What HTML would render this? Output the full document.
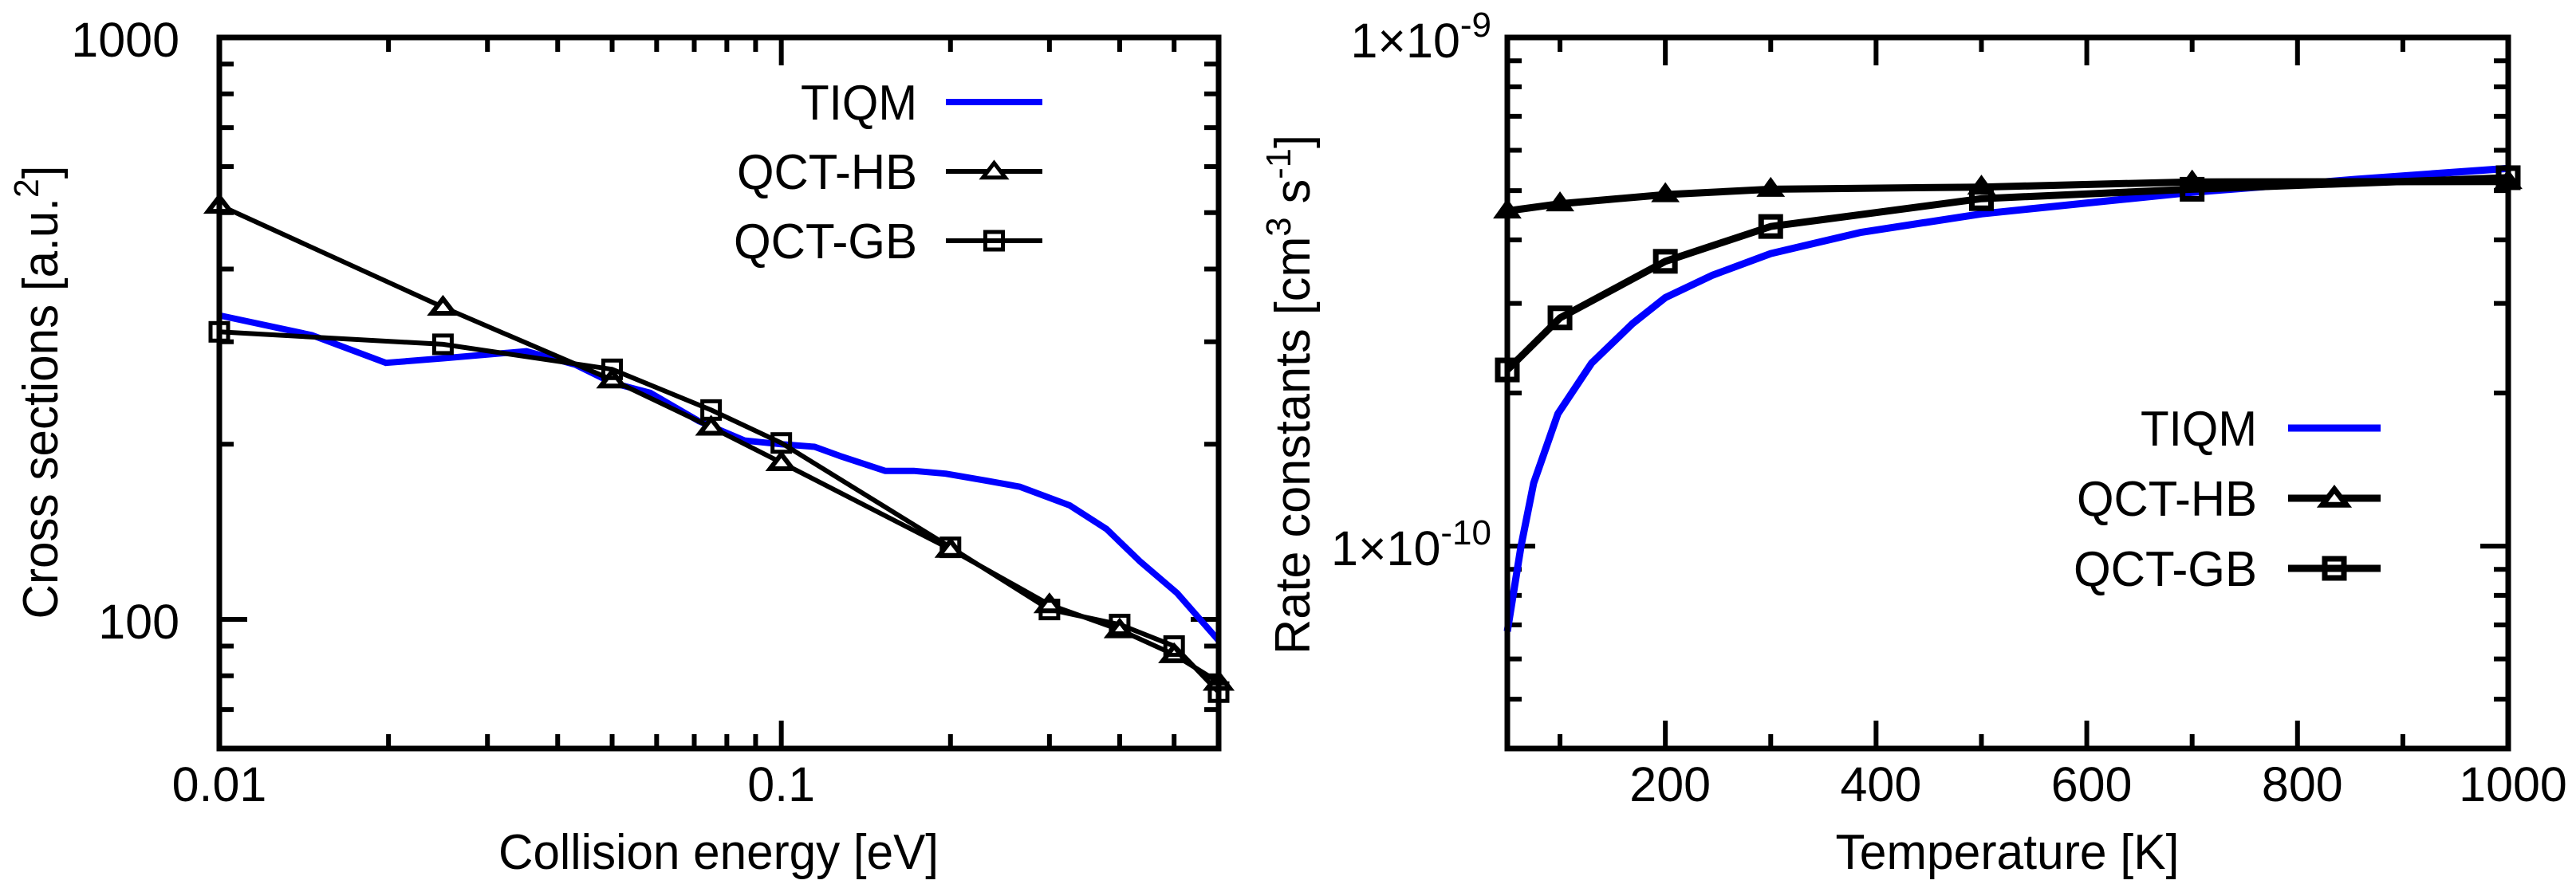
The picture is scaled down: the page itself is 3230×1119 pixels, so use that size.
<!DOCTYPE html>
<html><head><meta charset="utf-8"><style>
html,body{margin:0;padding:0;background:#fff}
svg{display:block}
text{font-family:"Liberation Sans",Arial,sans-serif;fill:#000}
</style></head><body>
<svg id="fig" width="3230" height="1119" viewBox="0 0 3230 1119" xmlns="http://www.w3.org/2000/svg">
<rect width="3230" height="1119" fill="#fff"/>
<g id="left"></g>
<g id="right"></g>
</svg>
<script>
// ---- Left chart data ----
const leftX = [0.01,0.025,0.05,0.075,0.1,0.2,0.3,0.4,0.5,0.6];
const leftHB = [515,344,258,214,186,132,106,96,87,78];
const leftGB = [312,297,269,229,201,133,104,98,90,75];
const leftTiqmX = [0.01,0.0146,0.0198,0.025,0.0352,0.043,0.05,0.0585,0.0714,0.086,0.1,0.1146,0.127,0.153,0.172,0.196,0.233,0.266,0.326,0.379,0.434,0.506,0.6];
const leftTiqmY = [333,308,276,281,289,274,255,245,219,203,200,198,191,180,180,178,173,169,157,143,126,111,92];
const leftYTicks = [100,1000];
const leftYTickLabels = ["100","1000"];
const leftXTicks = [0.01,0.1];
const leftXTickLabels = ["0.01","0.1"];
// ---- Right chart data ----
const rightT = [50,100,200,300,500,700,1000];
const rightHB = [4.56e-10,4.71e-10,4.91e-10,5.03e-10,5.08e-10,5.2e-10,5.21e-10];
const rightGB = [2.22e-10,2.81e-10,3.63e-10,4.25e-10,4.82e-10,5.03e-10,5.3e-10];
const rightTiqmT = [50,63,75,98,130,169,200,245,300,386,500,619,700,855,1000];
const rightTiqmK = [6.8e-11,1e-10,1.33e-10,1.82e-10,2.29e-10,2.74e-10,3.08e-10,3.41e-10,3.76e-10,4.14e-10,4.5e-10,4.77e-10,4.96e-10,5.26e-10,5.53e-10];
const rightXTicks = [200,400,600,800,1000];
const rightXTickLabels = ["200","400","600","800","1000"];
const rightYTickExps = ["-9","-10"];

const NS="http://www.w3.org/2000/svg";
function mk(parent,tag,attrs,txt){const e=document.createElementNS(NS,tag);for(const k in attrs)e.setAttribute(k,attrs[k]);if(txt!==undefined)e.textContent=txt;parent.appendChild(e);return e;}

// ===== LEFT =====
const L=document.getElementById('left');
const lx0=275,lx1=1528,ly0=47,ly1=939;
const lxMin=0.01,lxMax=0.6,lyMin=60,lyMax=1000;
const lxs=v=>lx0+(Math.log10(v)-Math.log10(lxMin))/(Math.log10(lxMax)-Math.log10(lxMin))*(lx1-lx0);
const lys=v=>ly1-(Math.log10(v)-Math.log10(lyMin))/(Math.log10(lyMax)-Math.log10(lyMin))*(ly1-ly0);
// ticks
[0.02,0.03,0.04,0.05,0.06,0.07,0.08,0.09,0.2,0.3,0.4,0.5].forEach(v=>{
  const t=mk(L,'line',{x1:lxs(v),x2:lxs(v),y1:ly1,y2:ly1-18,stroke:'#000','stroke-width':6});
  
  
  const t2=mk(L,'line',{x1:lxs(v),x2:lxs(v),y1:ly0,y2:ly0+18,stroke:'#000','stroke-width':6});
  
  
});
leftXTicks.forEach((v,i)=>{
  const t=mk(L,'line',{x1:lxs(v),x2:lxs(v),y1:ly1,y2:ly1-35,stroke:'#000','stroke-width':6});
  
  
  const t2=mk(L,'line',{x1:lxs(v),x2:lxs(v),y1:ly0,y2:ly0+35,stroke:'#000','stroke-width':6});
  
  
  const lb=mk(L,'text',{x:lxs(v),y:1005,'font-size':61,'text-anchor':'middle'},leftXTickLabels[i]);
  
  
});
[70,80,90,200,300,400,500,600,700,800,900].forEach(v=>{
  const t=mk(L,'line',{x1:lx0,x2:lx0+18,y1:lys(v),y2:lys(v),stroke:'#000','stroke-width':6});
  
  
  const t2=mk(L,'line',{x1:lx1,x2:lx1-18,y1:lys(v),y2:lys(v),stroke:'#000','stroke-width':6});
  
  
});
leftYTicks.forEach((v,i)=>{
  const t=mk(L,'line',{x1:lx0,x2:lx0+35,y1:lys(v),y2:lys(v),stroke:'#000','stroke-width':6});
  
  
  const t2=mk(L,'line',{x1:lx1,x2:lx1-35,y1:lys(v),y2:lys(v),stroke:'#000','stroke-width':6});
  
  
  const lb=mk(L,'text',{x:225,y:lys(v)+24,'font-size':61,'text-anchor':'end'},leftYTickLabels[i]);
  
  
});
// series
function ptsStr(xs,ys,fx,fy){return xs.map((x,i)=>fx(x).toFixed(1)+','+fy(ys[i]).toFixed(1)).join(' ');}
const lt=mk(L,'polyline',{points:ptsStr(leftTiqmX,leftTiqmY,lxs,lys),fill:'none',stroke:'#0000ff','stroke-width':8,'stroke-linejoin':'round'});


const lh=mk(L,'polyline',{points:ptsStr(leftX,leftHB,lxs,lys),fill:'none',stroke:'#000','stroke-width':6});


const lg=mk(L,'polyline',{points:ptsStr(leftX,leftGB,lxs,lys),fill:'none',stroke:'#000','stroke-width':6});


function tri(g,cx,cy,s,sw){return mk(g,'polygon',{points:`${cx-s},${cy+s*0.55} ${cx+s},${cy+s*0.55} ${cx},${cy-s*0.75}`,fill:'#fff',stroke:'#000','stroke-width':sw});}
function sq(g,cx,cy,s,sw){return mk(g,'rect',{x:cx-s,y:cy-s,width:2*s,height:2*s,fill:'none',stroke:'#000','stroke-width':sw});}
leftX.forEach((x,i)=>{
  const m=tri(L,lxs(x),lys(leftHB[i]),14,6);
  
  
  const s=sq(L,lxs(x),lys(leftGB[i]),11,5);
  
  
});
// frame
const lf=mk(L,'rect',{x:lx0,y:ly0,width:lx1-lx0,height:ly1-ly0,fill:'none',stroke:'#000','stroke-width':7});


// legend
function legend(g,tx,lxA,lxB,ys,sw,blueW,ts,ss,tsw){
  const names=['TIQM','QCT-HB','QCT-GB'];const widths=[146,226,230];
  names.forEach((n,i)=>{
    const t=mk(g,'text',{x:tx,y:ys[i]+22,'font-size':62,'text-anchor':'end',textLength:widths[i],lengthAdjust:'spacingAndGlyphs'},n);
    
    
    const l=mk(g,'line',{x1:lxA,x2:lxB,y1:ys[i],y2:ys[i],stroke:i==0?'#0000ff':'#000','stroke-width':i==0?blueW:sw});
    
    
  });
  const c=(lxA+lxB)/2;
  const m=tri(g,c,ys[1],ts,tsw);
  const s=sq(g,c,ys[2],ss,tsw);
}
legend(L,1150,1186,1307,[128,215,302],6,8,14,11,5);
// titles
const lxt=mk(L,'text',{x:901,y:1090,'font-size':62,'text-anchor':'middle',textLength:552,lengthAdjust:'spacingAndGlyphs'},'Collision energy [eV]');


const lyt=mk(L,'text',{x:0,y:0,'font-size':62,'text-anchor':'middle',transform:'translate(72,492) rotate(-90)',textLength:569,lengthAdjust:'spacingAndGlyphs'});


lyt.innerHTML='Cross sections [a.u.<tspan dy="-24" font-size="44">2</tspan><tspan dy="24">]</tspan>';

// ===== RIGHT =====
const R=document.getElementById('right');
const rx0=1890,rx1=3145,ry0=47,ry1=939;
const rxMin=50,rxMax=1000,ryMin=4e-11,ryMax=1e-9;
const rxs=v=>rx0+(v-rxMin)/(rxMax-rxMin)*(rx1-rx0);
const rys=v=>ry1-(Math.log10(v)-Math.log10(ryMin))/(Math.log10(ryMax)-Math.log10(ryMin))*(ry1-ry0);
[100,300,500,700,900].forEach(v=>{
  const t=mk(R,'line',{x1:rxs(v),x2:rxs(v),y1:ry1,y2:ry1-18,stroke:'#000','stroke-width':6});
  
  
  const t2=mk(R,'line',{x1:rxs(v),x2:rxs(v),y1:ry0,y2:ry0+18,stroke:'#000','stroke-width':6});
  
  
});
rightXTicks.forEach((v,i)=>{
  const t=mk(R,'line',{x1:rxs(v),x2:rxs(v),y1:ry1,y2:ry1-35,stroke:'#000','stroke-width':6});
  
  
  const t2=mk(R,'line',{x1:rxs(v),x2:rxs(v),y1:ry0,y2:ry0+35,stroke:'#000','stroke-width':6});
  
  
  const lb=mk(R,'text',{x:rxs(v)+6,y:1005,'font-size':61,'text-anchor':'middle'},rightXTickLabels[i]);
  
  
});
[5e-11,6e-11,7e-11,8e-11,9e-11,2e-10,3e-10,4e-10,5e-10,6e-10,7e-10,8e-10,9e-10].forEach(v=>{
  const t=mk(R,'line',{x1:rx0,x2:rx0+18,y1:rys(v),y2:rys(v),stroke:'#000','stroke-width':6});
  
  
  const t2=mk(R,'line',{x1:rx1,x2:rx1-18,y1:rys(v),y2:rys(v),stroke:'#000','stroke-width':6});
  
  
});
rightYTickExps.forEach((e,i)=>{
  const v=Math.pow(10,Number(e));
  const t=mk(R,'line',{x1:rx0,x2:rx0+35,y1:rys(v),y2:rys(v),stroke:'#000','stroke-width':6});
  
  
  const t2=mk(R,'line',{x1:rx1,x2:rx1-35,y1:rys(v),y2:rys(v),stroke:'#000','stroke-width':6});
  
  
  const lb=mk(R,'text',{x:1870,y:Math.max(rys(v)+24,72),'font-size':61,'text-anchor':'end'});
  
  
  lb.innerHTML='1×10<tspan dy="-26" font-size="44">'+e+'</tspan>';
});
const rt=mk(R,'polyline',{points:ptsStr(rightTiqmT,rightTiqmK,rxs,rys),fill:'none',stroke:'#0000ff','stroke-width':9,'stroke-linejoin':'round'});


const rh=mk(R,'polyline',{points:ptsStr(rightT,rightHB,rxs,rys),fill:'none',stroke:'#000','stroke-width':9});


const rg=mk(R,'polyline',{points:ptsStr(rightT,rightGB,rxs,rys),fill:'none',stroke:'#000','stroke-width':9});


rightT.forEach((x,i)=>{
  const m=mk(R,'polygon',{points:`${rxs(x)-15},${rys(rightHB[i])+8} ${rxs(x)+15},${rys(rightHB[i])+8} ${rxs(x)},${rys(rightHB[i])-13}`,fill:'#000',stroke:'#000','stroke-width':3});
  
  
  const s=sq(R,rxs(x),rys(rightGB[i]),12,7);
  
  
});
const rf=mk(R,'rect',{x:rx0,y:ry0,width:rx1-rx0,height:ry1-ry0,fill:'none',stroke:'#000','stroke-width':7});


legend(R,2830,2869,2985,[537,625,713],9,9,15,12,7);
const rxt=mk(R,'text',{x:2517,y:1090,'font-size':62,'text-anchor':'middle',textLength:431,lengthAdjust:'spacingAndGlyphs'},'Temperature [K]');


const ryt=mk(R,'text',{x:0,y:0,'font-size':62,'text-anchor':'middle',transform:'translate(1642,495) rotate(-90)',textLength:652,lengthAdjust:'spacingAndGlyphs'});


ryt.innerHTML='Rate constants [cm<tspan dy="-24" font-size="44">3</tspan><tspan dy="24"> s</tspan><tspan dy="-24" font-size="44">-1</tspan><tspan dy="24">]</tspan>';
</script>
</body></html>
